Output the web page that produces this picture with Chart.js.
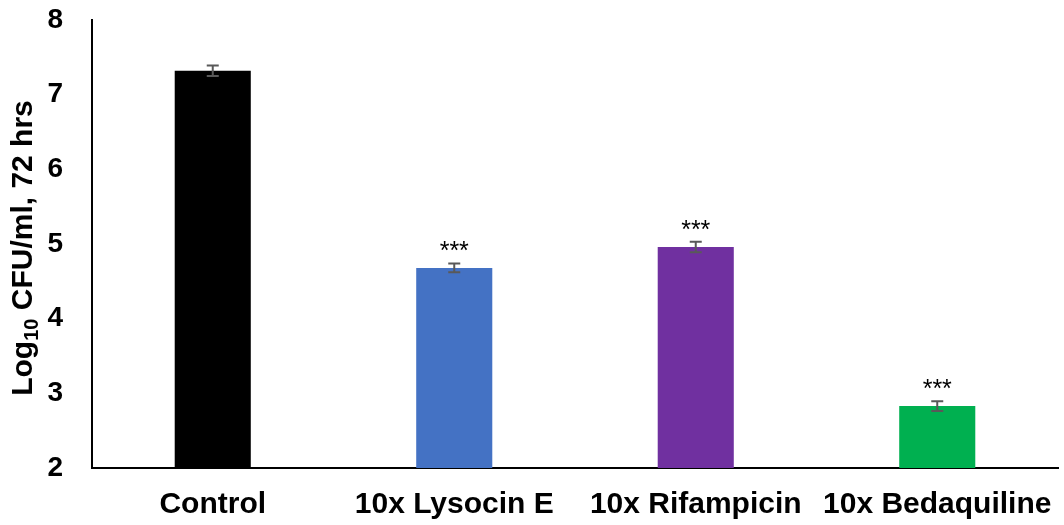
<!DOCTYPE html>
<html>
<head>
<meta charset="utf-8">
<script src="https://cdn.jsdelivr.net/npm/chart.js@4"></script>
<style>
  html, body { margin: 0; padding: 0; background: #fff; }
  #wrap { width: 1064px; height: 525px; }
</style>
</head>
<body>
<div id="wrap"><canvas id="cfuChart"></canvas></div>
<script>
// Data
const categories = ['Control', '10x Lysocin E', '10x Rifampicin', '10x Bedaquiline'];
const logCfu = [7.32, 4.68, 4.96, 2.83];
const errors = [0.07, 0.06, 0.07, 0.065];
const barColors = ['#000000', '#4472C4', '#7030A0', '#00B050'];
const stars = ['', '***', '***', '***'];
const yTicks = [2, 3, 4, 5, 6, 7, 8];

const FONT = 'Liberation Sans, Arial, sans-serif';

// error bars + significance marks
const errorBars = {
  id: 'errorBars',
  afterDatasetsDraw(chart) {
    const ctx = chart.ctx;
    const meta = chart.getDatasetMeta(0);
    const y = chart.scales.y;
    ctx.save();
    meta.data.forEach((bar, i) => {
      const top = y.getPixelForValue(logCfu[i] + errors[i]);
      const bot = y.getPixelForValue(logCfu[i] - errors[i]);
      ctx.strokeStyle = '#595959';
      ctx.lineWidth = 2;
      ctx.beginPath();
      ctx.moveTo(bar.x, top); ctx.lineTo(bar.x, bot);
      ctx.moveTo(bar.x - 6, top); ctx.lineTo(bar.x + 6, top);
      ctx.moveTo(bar.x - 6, bot); ctx.lineTo(bar.x + 6, bot);
      ctx.stroke();
      if (stars[i]) {
        ctx.fillStyle = '#000';
        ctx.font = '25px ' + FONT;
        ctx.textAlign = 'center';
        ctx.textBaseline = 'alphabetic';
        ctx.fillText(stars[i], bar.x, top - 4);
      }
    });
    ctx.restore();
  }
};

// y title with subscript
const yTitle = {
  id: 'yTitle',
  afterDraw(chart) {
    const ctx = chart.ctx;
    const area = chart.chartArea;
    const parts = [
      { t: 'Log', size: 30, dy: 0 },
      { t: '10', size: 20, dy: 6 },
      { t: ' CFU/ml, 72 hrs', size: 30, dy: 0 }
    ];
    ctx.save();
    let total = 0;
    parts.forEach(p => {
      ctx.font = 'bold ' + p.size + 'px ' + FONT;
      p.w = ctx.measureText(p.t).width;
      total += p.w;
    });
    ctx.translate(32, (area.top + area.bottom) / 2 + 4);
    ctx.rotate(-Math.PI / 2);
    ctx.fillStyle = '#000';
    ctx.textBaseline = 'alphabetic';
    ctx.textAlign = 'left';
    let x = -total / 2;
    parts.forEach(p => {
      ctx.font = 'bold ' + p.size + 'px ' + FONT;
      ctx.fillText(p.t, x, p.dy);
      x += p.w;
    });
    ctx.restore();
  }
};

new Chart(document.getElementById('cfuChart').getContext('2d'), {
  type: 'bar',
  data: {
    labels: categories,
    datasets: [{
      data: logCfu,
      backgroundColor: barColors,
      borderWidth: 0,
      categoryPercentage: 0.315,
      barPercentage: 1
    }]
  },
  options: {
    responsive: true,
    maintainAspectRatio: false,
    animation: false,
    layout: { padding: { top: 20, right: 6, left: 0, bottom: 0 } },
    plugins: { legend: { display: false }, tooltip: { enabled: false } },
    scales: {
      x: {
        grid: { display: false },
        border: { display: true, color: '#000', width: 2 },
        ticks: { color: '#000', padding: 11, font: { family: FONT, size: 30, weight: 'bold' } },
        afterFit(scale) { scale.height = 57; scale.paddingLeft = 0; scale.paddingRight = 0; }
      },
      y: {
        min: 2,
        max: 8,
        afterBuildTicks(scale) { scale.ticks = yTicks.map(v => ({ value: v })); },
        grid: { display: false },
        border: { display: true, color: '#000', width: 2 },
        ticks: { color: '#000', padding: 21, font: { family: FONT, size: 28, weight: 'bold' } },
        afterFit(scale) { scale.width = 92; scale.paddingTop = 0; scale.paddingBottom = 0; }
      }
    }
  },
  plugins: [errorBars, yTitle]
});
</script>
</body>
</html>
